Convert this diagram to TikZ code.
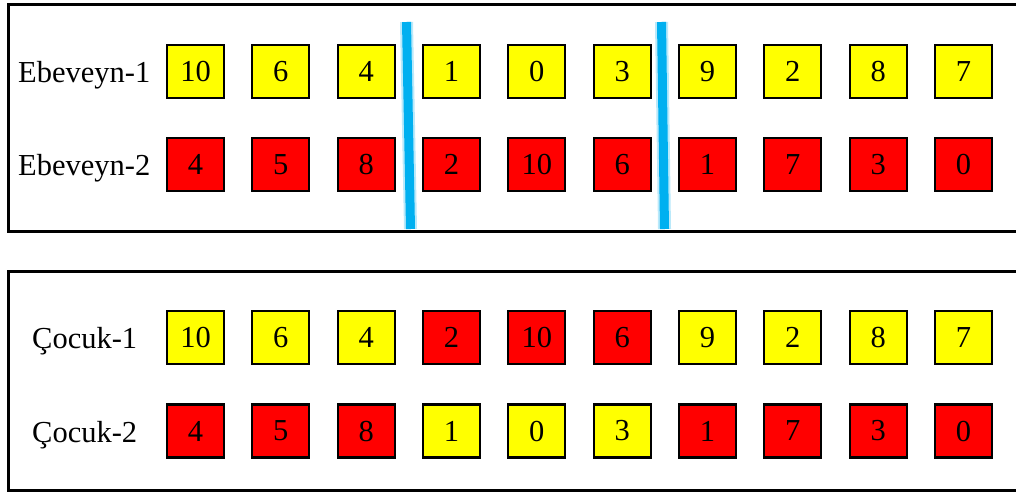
\documentclass[tikz,border=0pt]{standalone}
\usepackage{fontspec}
\setmainfont{Liberation Serif}
\definecolor{gyel}{RGB}{255,255,0}
\definecolor{gred}{RGB}{255,0,0}
\definecolor{cutblue}{RGB}{0,176,240}
\begin{document}
\begin{tikzpicture}[x=1pt,y=-1pt,
  gene/.style={draw=black,line width=2.2pt,minimum width=57pt,minimum height=53pt,inner sep=0pt,font=\fontsize{30.5}{30.5}\selectfont},
  yg/.style={gene,fill=gyel},
  rg/.style={gene,fill=gred},
  lab/.style={anchor=base west,inner sep=0pt,font=\fontsize{30.5}{30.5}\selectfont},
  frame/.style={draw=black,line width=3pt},
  cut/.style={draw=cutblue,line width=9pt},
  cuthalo/.style={draw=cutblue!45,line width=13pt,opacity=0.6}]
\useasboundingbox (0,0) rectangle (1016,493);
\clip (0,0) rectangle (1016,493);
\fill[white] (0,0) rectangle (1016,493);
% frames
\draw[frame] (8,4) rectangle (1030,231);
\draw[frame] (8,271) rectangle (1030,490);
% labels
\node[lab] (l1) at (18,82.5) {Ebeveyn-1};
\node[lab] (l2) at (18,175.5) {Ebeveyn-2};
\node[lab] (l3) at (32,348.5) {Çocuk-1};
\node[lab] (l4) at (32,442) {Çocuk-2};
% parent 1
\foreach \v/\s [count=\i from 0] in {10/yg,6/yg,4/yg,1/yg,0/yg,3/yg,9/yg,2/yg,8/yg,7/yg}
  \node[\s] (p1c\i) at ({195.5+85.33*\i},71.5) {\v};
% parent 2
\foreach \v/\s [count=\i from 0] in {4/rg,5/rg,8/rg,2/rg,10/rg,6/rg,1/rg,7/rg,3/rg,0/rg}
  \node[\s] (p2c\i) at ({195.5+85.33*\i},164.5) {\v};
% child 1
\foreach \v/\s [count=\i from 0] in {10/yg,6/yg,4/yg,2/rg,10/rg,6/rg,9/yg,2/yg,8/yg,7/yg}
  \node[\s] (k1c\i) at ({195.5+85.33*\i},337.5) {\v};
% child 2
\foreach \v/\s [count=\i from 0] in {4/rg,5/rg,8/rg,1/yg,0/yg,3/yg,1/rg,7/rg,3/rg,0/rg}
  \node[\s] (k2c\i) at ({195.5+85.33*\i},431) {\v};
% cut lines
\coordinate (cutAtop) at (406.5,22);
\coordinate (cutAbot) at (410.5,229);
\coordinate (cutBtop) at (661.5,22);
\coordinate (cutBbot) at (664.5,229);
\draw[cuthalo] (cutAtop) -- (cutAbot);
\draw[cuthalo] (cutBtop) -- (cutBbot);
\draw[cut] (cutAtop) -- (cutAbot);
\draw[cut] (cutBtop) -- (cutBbot);
\end{tikzpicture}
\end{document}
